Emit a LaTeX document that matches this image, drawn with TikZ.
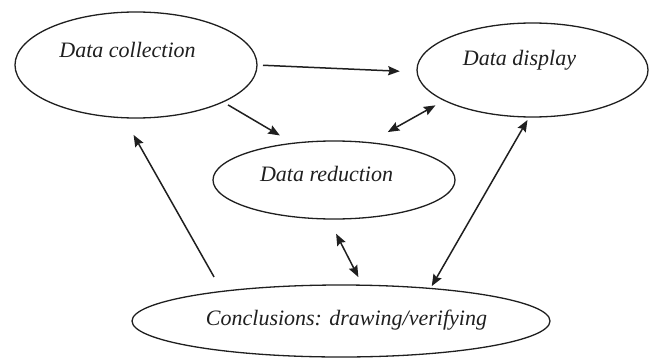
\documentclass[tikz,border=0pt]{standalone}
\usepackage{fontspec}
\setmainfont{Liberation Serif}
\usetikzlibrary{shapes.geometric,arrows.meta}
\definecolor{ink}{gray}{0.12}
\tikzset{
  bubble/.style={ellipse,draw=ink,line width=0.65pt,inner sep=0pt,outer sep=0pt},
  lbl/.style={anchor=base,inner sep=0pt,font=\fontsize{11}{13}\selectfont\itshape,text=ink},
  tip/.style={Stealth[length=5.8pt,width=4.6pt,inset=0.8pt]},
  conn/.style={draw=ink,line width=0.75pt,arrows={-Stealth[length=5.8pt,width=4.6pt,inset=0.8pt]}},
  conn2/.style={draw=ink,line width=0.75pt,arrows={Stealth[length=5.8pt,width=4.6pt,inset=0.8pt]-Stealth[length=5.8pt,width=4.6pt,inset=0.8pt]}}
}
\begin{document}
\begin{tikzpicture}[x=0.5pt,y=-0.5pt]
\useasboundingbox (0,0) rectangle (651,358);
\node[bubble,minimum width=121pt,minimum height=53pt] (coll) at (136,65) {};
\node[bubble,minimum width=115.5pt,minimum height=47pt] (disp) at (532.5,70) {};
\node[bubble,minimum width=121pt,minimum height=39pt] (red) at (334,180) {};
\node[bubble,minimum width=209pt,minimum height=36pt] (conc) at (341,321) {};
\node[lbl] (tcoll) at (127.5,58) {Data collection};
\node[lbl] (tdisp) at (519.5,65.5) {Data display};
\node[lbl] (tred) at (326.5,181.5) {Data reduction};
\node[lbl] (tconc) at (346.5,325) {Conclusions: drawing/verifying};
\draw[conn,shorten <=3pt,shorten >=8.7pt] (coll.-0.8) -- (disp.181.8);
\draw[conn,shorten <=3pt,shorten >=7.75pt] (coll.-23.1) -- (red.138.6);
\draw[conn,shorten <=8.3pt,shorten >=9.9pt] (conc.166.2) -- (coll.-103.5);
\draw[conn2,shorten <=10.85pt,shorten >=5.1pt] (red.47) -- (disp.199.8);
\draw[conn2,shorten <=8.3pt,shorten >=4.55pt] (red.262.2) -- (conc.59.7);
\draw[conn2,shorten <=1.35pt,shorten >=1.75pt] (conc.20.5) -- (disp.266.7);
\end{tikzpicture}
\end{document}
